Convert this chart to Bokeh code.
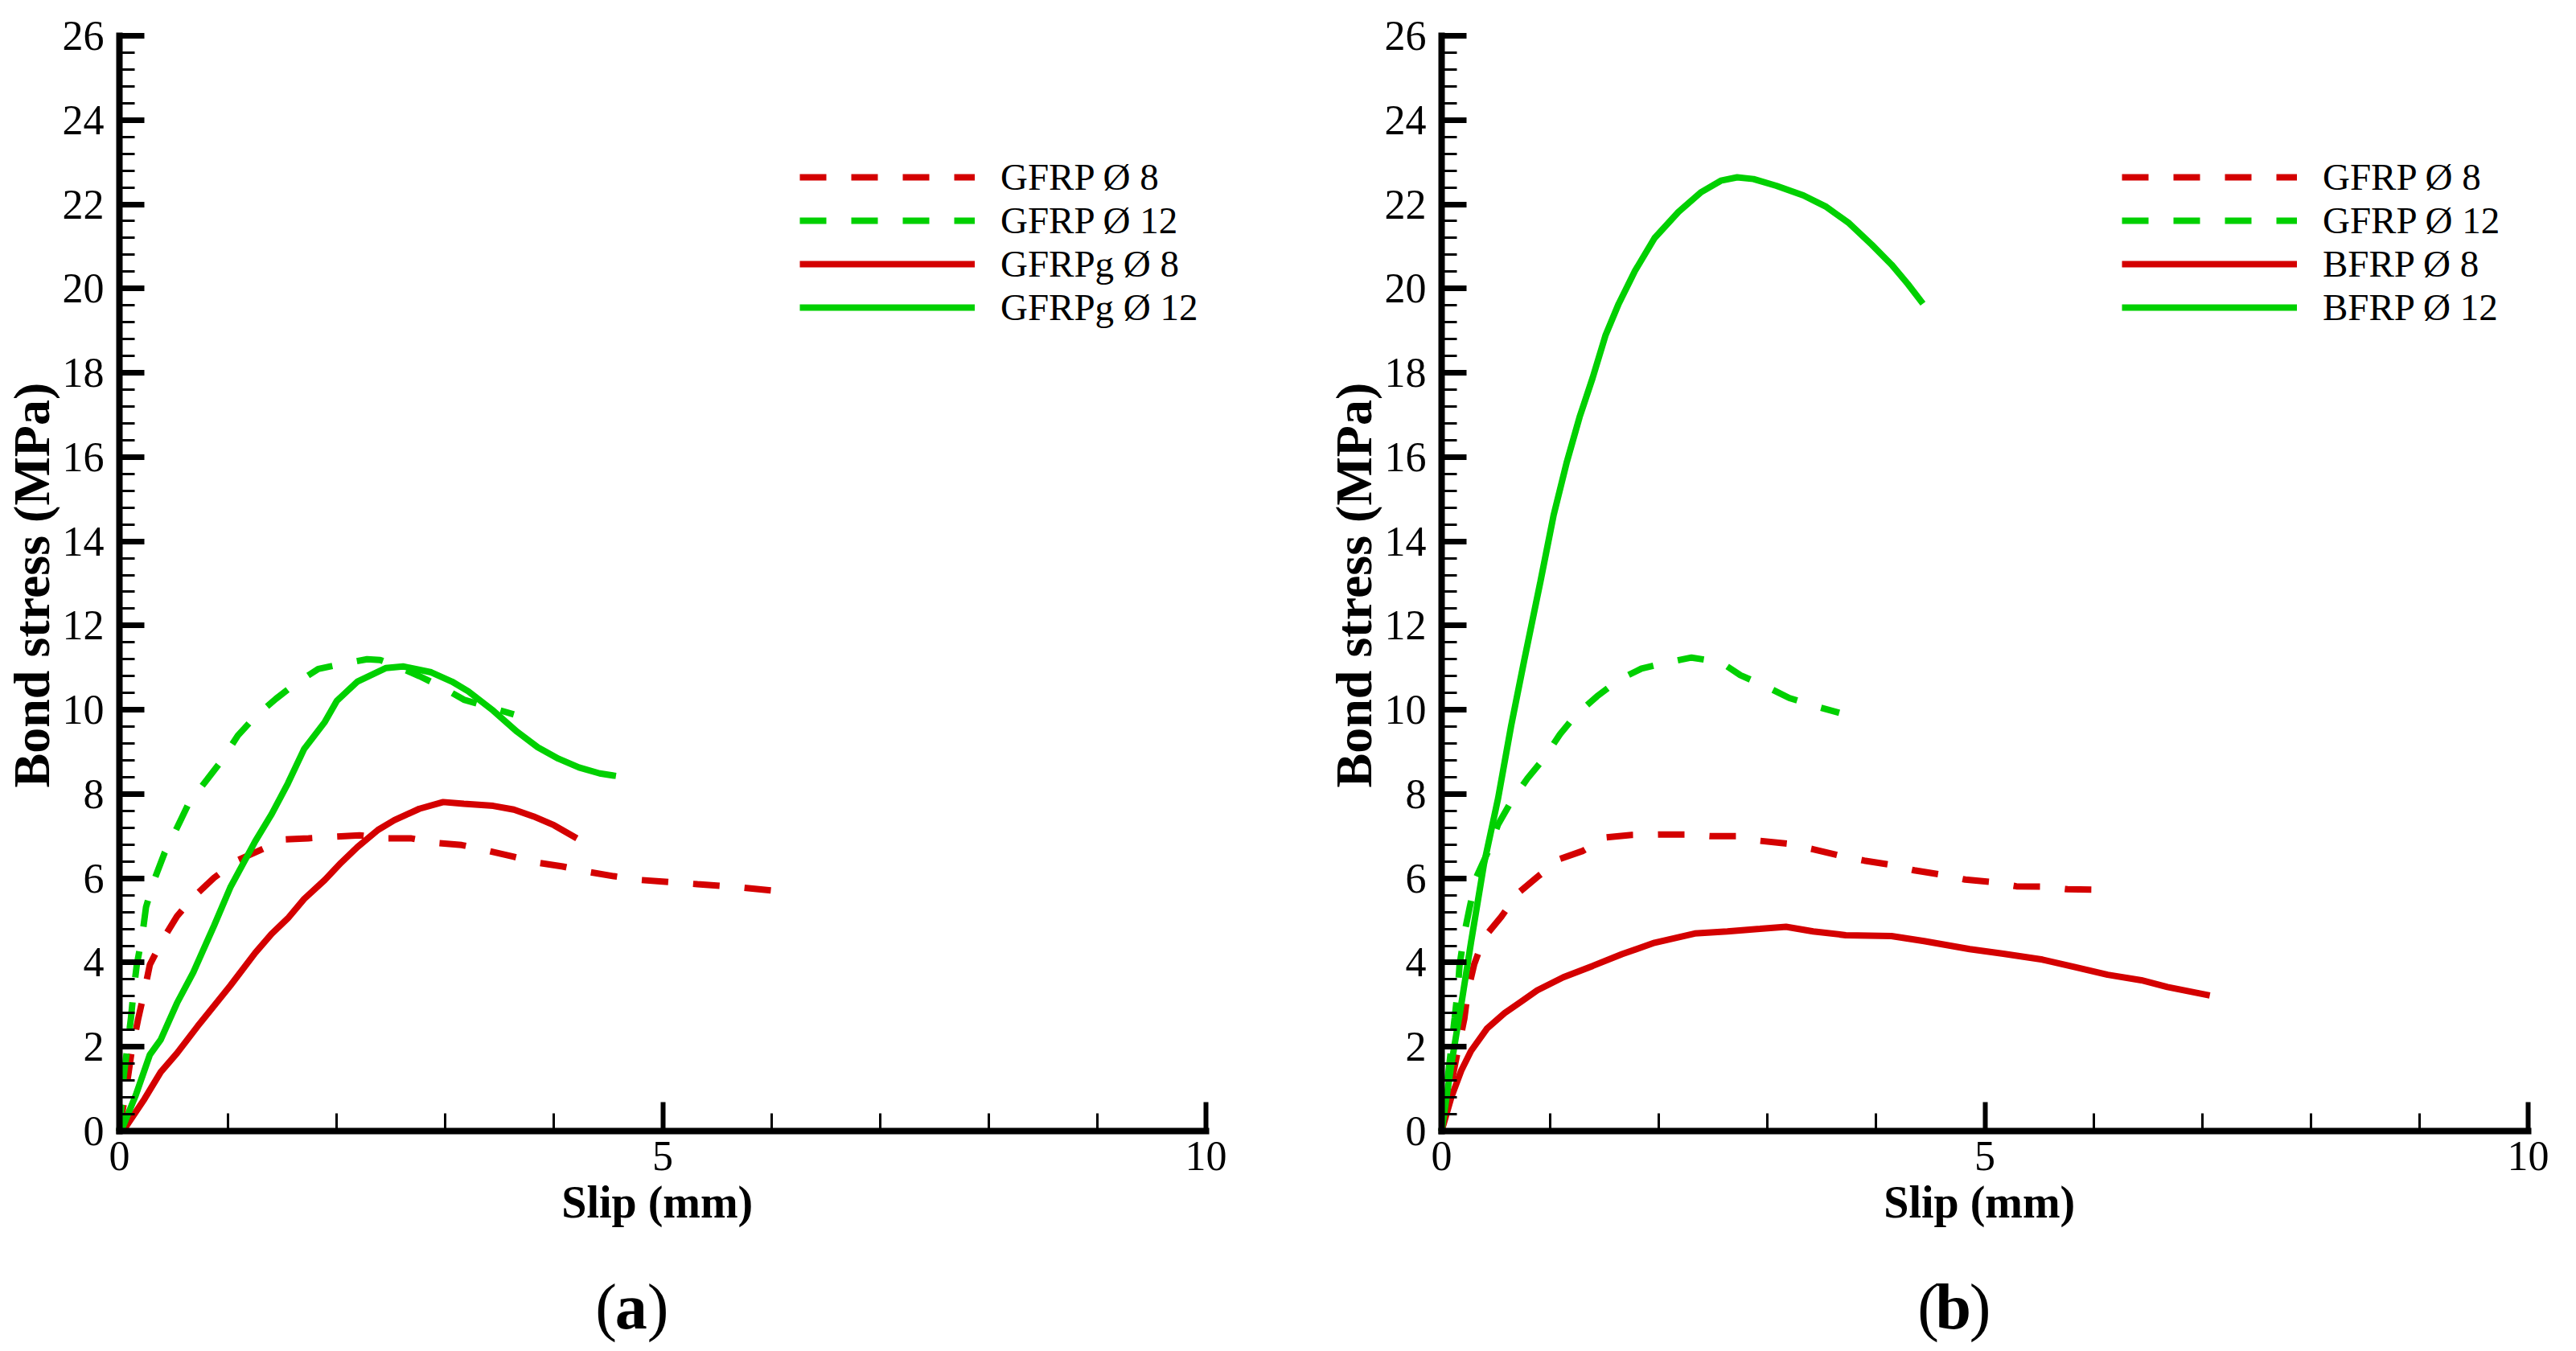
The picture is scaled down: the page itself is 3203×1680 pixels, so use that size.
import math

from bokeh.embed import file_html
from bokeh.layouts import row
from bokeh.models import FixedTicker, Label, Range1d
from bokeh.plotting import figure
from bokeh.resources import INLINE

# ---------------- dados ----------------
# painel (a)
a_gfrp8_x = [0.0, 0.08, 0.11, 0.17, 0.23, 0.28, 0.40, 0.53, 0.68, 0.87, 1.08, 1.28, 1.51, 1.74,
             1.98, 2.21, 2.45, 2.68, 2.91, 3.15, 3.40, 3.63, 3.85, 4.08, 4.32, 4.55, 4.80, 5.32,
             5.70, 6.12]
a_gfrp8_y = [0.0, 1.31, 1.85, 2.63, 3.32, 3.95, 4.55, 5.10, 5.55, 6.01, 6.42, 6.65, 6.92, 6.95,
             6.99, 7.02, 6.95, 6.95, 6.84, 6.79, 6.65, 6.51, 6.37, 6.28, 6.15, 6.05, 5.96, 5.86,
             5.79, 5.68]

a_gfrp12_x = [0.0, 0.04, 0.106, 0.13, 0.16, 0.21, 0.245, 0.32, 0.415, 0.53, 0.64, 0.79, 0.94,
              1.09, 1.25, 1.44, 1.62, 1.83, 2.07, 2.28, 2.40, 2.53, 2.76, 2.96, 3.17, 3.42, 3.63]
a_gfrp12_y = [0.0, 1.31, 2.68, 3.32, 3.95, 4.64, 5.32, 5.96, 6.60, 7.20, 7.79, 8.29, 8.79,
              9.39, 9.84, 10.26, 10.62, 10.97, 11.10, 11.20, 11.18, 11.06, 10.80, 10.55, 10.24,
              10.05, 9.89]

a_gfrpg8_x = [0.0, 0.04, 0.23, 0.38, 0.53, 0.72, 1.02, 1.25, 1.40, 1.55, 1.70, 1.89, 2.04, 2.19,
              2.38, 2.53, 2.76, 2.98, 3.17, 3.44, 3.63, 3.81, 4.00, 4.21]
a_gfrpg8_y = [0.0, 0.03, 0.76, 1.40, 1.85, 2.49, 3.45, 4.23, 4.68, 5.05, 5.51, 5.96, 6.37, 6.74,
              7.15, 7.38, 7.65, 7.81, 7.77, 7.72, 7.63, 7.47, 7.26, 6.95]

a_gfrpg12_x = [0.0, 0.02, 0.15, 0.28, 0.38, 0.53, 0.68, 0.87, 1.02, 1.25, 1.40, 1.55, 1.70, 1.89,
               2.00, 2.19, 2.45, 2.61, 2.87, 3.06, 3.21, 3.44, 3.66, 3.85, 4.04, 4.23, 4.42, 4.57]
a_gfrpg12_y = [0.0, 0.03, 0.85, 1.81, 2.17, 3.04, 3.77, 4.87, 5.78, 6.88, 7.52, 8.25, 9.07, 9.71,
               10.21, 10.67, 10.99, 11.03, 10.89, 10.67, 10.44, 9.98, 9.48, 9.11, 8.84, 8.63,
               8.49, 8.43]

# painel (b)
b_gfrp8_x = [0.0, 0.21, 0.24, 0.30, 0.39, 0.55, 0.70, 0.88, 1.09, 1.30, 1.51, 1.75, 2.00, 2.24,
             2.48, 2.72, 2.93, 3.19, 3.42, 3.66, 3.89, 4.11, 4.35, 4.59, 4.82, 5.06, 5.29, 5.54,
             5.76, 6.01, 6.12]
b_gfrp8_y = [0.0, 2.68, 3.30, 3.96, 4.59, 5.09, 5.64, 6.03, 6.46, 6.65, 6.97, 7.03, 7.04, 7.04,
             7.00, 7.00, 6.89, 6.82, 6.69, 6.54, 6.42, 6.33, 6.19, 6.09, 5.97, 5.91, 5.81, 5.80,
             5.74, 5.73, 5.68]

b_gfrp12_x = [0.0, 0.12, 0.15, 0.165, 0.21, 0.26, 0.32, 0.43, 0.52, 0.64, 0.79, 0.94, 1.09, 1.24,
              1.43, 1.63, 1.84, 2.09, 2.30, 2.57, 2.75, 2.99, 3.20, 3.45, 3.66]
b_gfrp12_y = [0.0, 2.68, 3.38, 3.93, 4.70, 5.33, 6.03, 6.65, 7.28, 7.82, 8.37, 8.84, 9.42, 9.89,
              10.32, 10.71, 10.98, 11.13, 11.24, 11.13, 10.82, 10.55, 10.28, 10.08, 9.93]

b_bfrp8_x = [0.0, 0.09, 0.18, 0.27, 0.42, 0.58, 0.73, 0.88, 1.12, 1.39, 1.66, 1.96, 2.33, 2.63,
             2.93, 3.17, 3.42, 3.72, 4.14, 4.44, 4.86, 5.17, 5.53, 5.83, 6.13, 6.44, 6.68, 7.07]
b_bfrp8_y = [0.0, 0.81, 1.43, 1.90, 2.44, 2.80, 3.07, 3.34, 3.65, 3.92, 4.20, 4.47, 4.69, 4.74,
             4.80, 4.85, 4.74, 4.65, 4.63, 4.51, 4.32, 4.21, 4.07, 3.89, 3.71, 3.58, 3.42, 3.22]

b_bfrp12_x = [0.0, 0.09, 0.18, 0.27, 0.39, 0.52, 0.64, 0.76, 0.91, 1.03, 1.15, 1.27, 1.39, 1.51,
              1.63, 1.78, 1.96, 2.18, 2.39, 2.57, 2.72, 2.87, 3.08, 3.33, 3.54, 3.75, 3.96, 4.14,
              4.29, 4.43]
b_bfrp12_y = [0.0, 1.59, 2.99, 4.47, 6.34, 7.90, 9.62, 11.17, 13.05, 14.61, 15.86, 16.95, 17.88,
              18.90, 19.64, 20.42, 21.20, 21.82, 22.29, 22.56, 22.64, 22.60, 22.44, 22.21, 21.94,
              21.55, 21.04, 20.57, 20.11, 19.64]

x_ticks = [0, 5, 10]
x_minor = list(range(0, 11))
y_ticks = list(range(0, 27, 2))
y_minor = [round(0.4 * i, 1) for i in range(66)]

labels_a = ["GFRP Ø 8", "GFRP Ø 12", "GFRPg Ø 8", "GFRPg Ø 12"]
labels_b = ["GFRP Ø 8", "GFRP Ø 12", "BFRP Ø 8", "BFRP Ø 12"]

RED = "#d40000"
GREEN = "#00d000"
SERIF = "Liberation Serif"
DASH = "33 31"

# geometria (pixels): eixos dentro de um frame que ocupa todo o canvas
H = 1672
SX = 1351 / 10.0        # px por mm
SY = 1362 / 26.0        # px por MPa
Y0_PX = 1406            # linha y=0 a partir do topo


def make_panel(series, labels, tag, width, axis_px, legend_x):
    xr = Range1d(-axis_px / SX, (width - axis_px) / SX)
    yr = Range1d(-(H - Y0_PX) / SY, Y0_PX / SY)
    p = figure(width=width, height=H, x_range=xr, y_range=yr,
               output_backend="svg", toolbar_location=None,
               min_border_left=0, min_border_right=0, min_border_top=0, min_border_bottom=0)
    p.outline_line_color = None
    p.grid.visible = False

    estilos = [(RED, DASH), (GREEN, DASH), (RED, "solid"), (GREEN, "solid")]
    for (xs, ys), (cor, dash), lab in zip(series, estilos, labels):
        p.line(xs, ys, line_color=cor, line_width=8, line_dash=dash, legend_label=lab)

    # eixo x
    xa = p.xaxis[0]
    xa.fixed_location = 0
    xa.bounds = (0, 10)
    xa.ticker = FixedTicker(ticks=x_ticks, minor_ticks=x_minor)
    xa.axis_line_width = 8
    xa.axis_line_cap = "square"
    xa.major_tick_in = 36
    xa.major_tick_out = 0
    xa.major_tick_line_width = 6
    xa.minor_tick_in = 22
    xa.minor_tick_out = 0
    xa.minor_tick_line_width = 3
    xa.major_label_text_font = SERIF
    xa.major_label_text_font_size = "52px"
    xa.major_label_text_color = "black"
    xa.major_label_standoff = 13

    # eixo y
    ya = p.yaxis[0]
    ya.fixed_location = 0
    ya.bounds = (0, 26)
    ya.ticker = FixedTicker(ticks=y_ticks, minor_ticks=y_minor)
    ya.axis_line_width = 8
    ya.axis_line_cap = "square"
    ya.major_tick_in = 31
    ya.major_tick_out = 0
    ya.major_tick_line_width = 7
    ya.minor_tick_in = 19
    ya.minor_tick_out = 0
    ya.minor_tick_line_width = 3
    ya.major_label_text_font = SERIF
    ya.major_label_text_font_size = "52px"
    ya.major_label_text_color = "black"
    ya.major_label_standoff = 19

    # titulos dos eixos e legenda do painel
    p.add_layout(Label(x=4.95, y=-1.68, text="Slip (mm)", text_font=SERIF,
                       text_font_style="bold", text_font_size="56px", text_color="black",
                       text_align="center", text_baseline="alphabetic"))
    p.add_layout(Label(x=-0.81, y=12.96, text="Bond stress (MPa)", text_font=SERIF,
                       text_font_style="bold", text_font_size="64px", angle=math.pi / 2,
                       text_color="black", text_align="center", text_baseline="alphabetic"))
    p.add_layout(Label(x=4.71, y=-4.18, text="(", text_font=SERIF, text_font_size="80px",
                       text_color="black", text_align="right", text_baseline="alphabetic",
                       x_offset=-18))
    p.add_layout(Label(x=4.71, y=-4.18, text=tag, text_font=SERIF, text_font_style="bold",
                       text_font_size="80px", text_color="black", text_align="center",
                       text_baseline="alphabetic"))
    p.add_layout(Label(x=4.71, y=-4.18, text=")", text_font=SERIF, text_font_size="80px",
                       text_color="black", text_align="left", text_baseline="alphabetic",
                       x_offset=20))

    leg = p.legend[0]
    leg.location = (legend_x, 1263)
    leg.border_line_color = None
    leg.background_fill_alpha = 0
    leg.padding = 0
    leg.margin = 0
    leg.spacing = 0
    leg.glyph_width = 218
    leg.glyph_height = 20
    leg.label_height = 20
    leg.label_standoff = 32
    leg.label_text_font = SERIF
    leg.label_text_font_size = "47px"
    leg.label_text_color = "black"
    return p


series_a = [(a_gfrp8_x, a_gfrp8_y), (a_gfrp12_x, a_gfrp12_y),
            (a_gfrpg8_x, a_gfrpg8_y), (a_gfrpg12_x, a_gfrpg12_y)]
series_b = [(b_gfrp8_x, b_gfrp8_y), (b_gfrp12_x, b_gfrp12_y),
            (b_bfrp8_x, b_bfrp8_y), (b_bfrp12_x, b_bfrp12_y)]

p1 = make_panel(series_a, labels_a, "a", 1598, 148, 994)
p2 = make_panel(series_b, labels_b, "b", 1597, 194, 1040)

layout = row(p1, p2)
open("out.html", "w").write(file_html(layout, INLINE))
